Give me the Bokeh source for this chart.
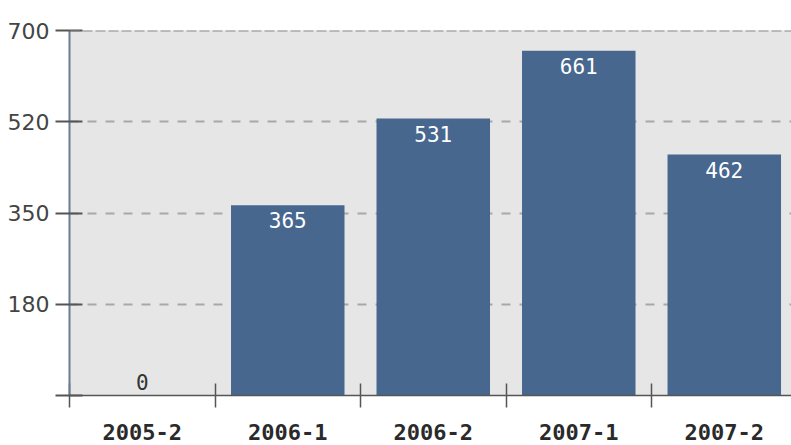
from bokeh.plotting import figure
from bokeh.models import Range1d, FixedTicker, ColumnDataSource, Span
from bokeh.core.properties import value
from bokeh.embed import file_html
from bokeh.resources import INLINE

# ---- data ----
categories = ["2005-2", "2006-1", "2006-2", "2007-1", "2007-2"]
values = [0, 365, 531, 661, 462]
y_tick_values = [0, 175, 350, 525, 700]
y_tick_labels = ["", "180", "350", "520", "700"]

BAR = "#47678f"
BG = "#e6e6e6"

n = len(categories)
xs = [i + 0.5 for i in range(n)]

p = figure(width=791, height=445, output_backend="svg", toolbar_location=None,
           x_range=Range1d(0, 4.962), y_range=Range1d(0, 700),
           min_border_left=69, min_border_right=0, min_border_top=30, min_border_bottom=50)
p.outline_line_color = None
p.background_fill_color = BG
p.border_fill_color = "white"

src = ColumnDataSource(dict(x=xs, top=values, label=[str(v) for v in values], cat=categories))
p.vbar(x="x", top="top", width=0.78, bottom=0, source=src, fill_color=BAR, line_color=None)

inside = ColumnDataSource(dict(x=[x for x, v in zip(xs, values) if v > 0],
                               y=[v for v in values if v > 0],
                               t=[str(v) for v in values if v > 0]))
outside = ColumnDataSource(dict(x=[x for x, v in zip(xs, values) if v <= 0],
                                y=[v for v in values if v <= 0],
                                t=[str(v) for v in values if v <= 0]))
p.text(x="x", y="y", text="t", source=inside, text_color="white",
       text_font=value("DejaVu Sans Mono"), text_font_size="21px",
       text_align="center", text_baseline="top", y_offset=7)
p.text(x="x", y="y", text="t", source=outside, text_color="#333333",
       text_font=value("DejaVu Sans Mono"), text_font_size="21px",
       text_align="center", text_baseline="bottom", y_offset=-6)

# y axis
ya = p.yaxis[0]
ya.ticker = FixedTicker(ticks=y_tick_values, minor_ticks=[])
ya.major_label_overrides = {t: l for t, l in zip(y_tick_values, y_tick_labels)}
ya.axis_line_color = "#6b7a96"
ya.axis_line_width = 2
ya.major_tick_line_color = "#555555"
ya.major_tick_line_width = 2
ya.major_tick_out = 14
ya.major_tick_in = 13
ya.minor_tick_line_color = None
ya.major_label_text_font = "DejaVu Sans"
ya.major_label_text_font_size = "22px"
ya.major_label_text_color = "#444444"
ya.major_label_standoff = 6
ya.major_label_text_baseline = "alphabetic"

# x axis
xa = p.xaxis[0]
xa.ticker = FixedTicker(ticks=xs, minor_ticks=list(range(n)))
xa.major_label_overrides = {x: c for x, c in zip(xs, categories)}
xa.axis_line_color = "#555555"
xa.axis_line_width = 1.5
xa.major_tick_line_color = None
xa.major_tick_out = 0
xa.major_tick_in = 0
xa.minor_tick_line_color = "#555555"
xa.minor_tick_line_width = 1.5
xa.minor_tick_in = 12
xa.minor_tick_out = 12
xa.major_label_text_font = "DejaVu Sans Mono"
xa.major_label_text_font_size = "22px"
xa.major_label_text_font_style = "bold"
xa.major_label_text_color = "#2a2a2a"
xa.major_label_standoff = 16

# grid
p.xgrid.grid_line_color = None
p.ygrid.ticker = FixedTicker(ticks=y_tick_values[1:-1])
p.ygrid.grid_line_color = "#a8a8a8"
p.ygrid.grid_line_width = 2
p.ygrid.grid_line_dash = "9 9"
p.add_layout(Span(location=y_tick_values[-1], dimension="width", line_color="#8a8a8a",
                  line_width=2, line_dash="10 3"))

open("out.html", "w").write(file_html(p, INLINE))
